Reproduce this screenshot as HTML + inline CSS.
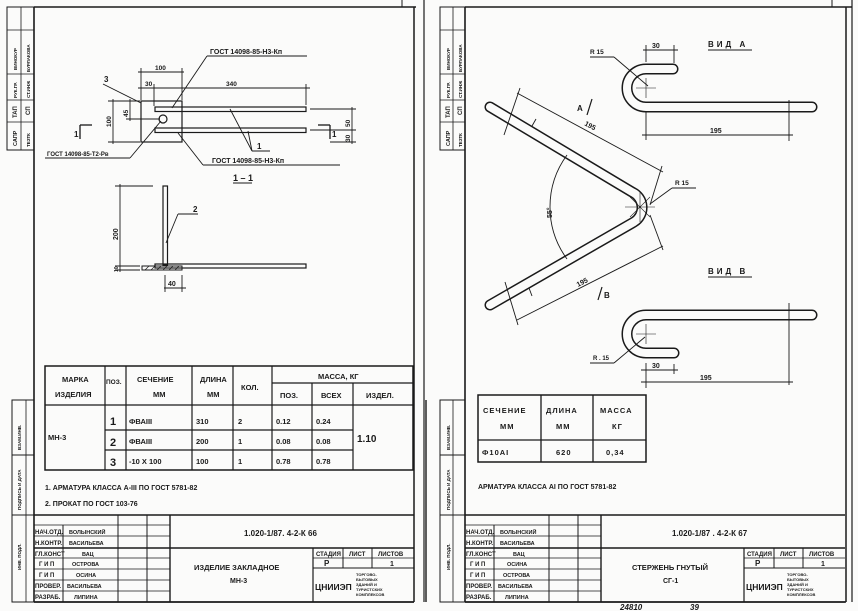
<!DOCTYPE html>
<html><head><meta charset="utf-8"><style>
html,body{margin:0;padding:0;background:#fbfbfa}
svg{display:block}
text{font-family:"Liberation Sans",sans-serif;font-weight:bold;fill:#1a1a1a}
</style></head><body>
<svg width="858" height="611" viewBox="0 0 858 611" xmlns="http://www.w3.org/2000/svg">
<defs>
<g id="tb" stroke="#1a1a1a" fill="none">
  <line x1="0" y1="0" x2="380" y2="0" stroke-width="1.6"/>
  <line x1="136" y1="0" x2="136" y2="87" stroke-width="1.4"/>
  <line x1="29" y1="10" x2="29" y2="87" stroke-width="1"/>
  <line x1="84" y1="0" x2="84" y2="87" stroke-width="1"/>
  <line x1="113" y1="0" x2="113" y2="87" stroke-width="1"/>
  <line x1="0" y1="10" x2="136" y2="10" stroke-width="0.8"/>
  <line x1="0" y1="21" x2="136" y2="21" stroke-width="0.8"/>
  <line x1="0" y1="33" x2="380" y2="33" stroke-width="1.4"/>
  <line x1="0" y1="43" x2="136" y2="43" stroke-width="0.8"/>
  <line x1="0" y1="54" x2="136" y2="54" stroke-width="0.8"/>
  <line x1="0" y1="65" x2="136" y2="65" stroke-width="0.8"/>
  <line x1="0" y1="76" x2="136" y2="76" stroke-width="0.8"/>
  <line x1="279" y1="33" x2="279" y2="87" stroke-width="1.2"/>
  <line x1="309" y1="33" x2="309" y2="53" stroke-width="1"/>
  <line x1="338" y1="33" x2="338" y2="53" stroke-width="1"/>
  <line x1="279" y1="43" x2="380" y2="43" stroke-width="0.8"/>
  <line x1="279" y1="53" x2="380" y2="53" stroke-width="1"/>
  <line x1="0" y1="87" x2="380" y2="87" stroke-width="1.6"/>
</g>
<g id="tbt" font-size="6">
  <text x="1" y="19">НАЧ.ОТД.</text><text x="1" y="30">Н.КОНТР.</text>
  <text x="1" y="41">ГЛ.КОНСТ</text><text x="5" y="51">Г И П</text>
  <text x="5" y="62">Г И П</text><text x="1" y="73">ПРОВЕР.</text>
  <text x="1" y="84">РАЗРАБ.</text>
  <text x="282" y="41">СТАДИЯ</text><text x="315" y="41">ЛИСТ</text><text x="344" y="41">ЛИСТОВ</text>
  <text x="290" y="51" font-size="8" font-weight="normal">Р</text><text x="356" y="51" font-size="7">1</text>
  <text x="281" y="75" font-size="8.5" font-weight="normal">ЦНИИЭП</text>
  <text x="322" y="61" font-size="4">ТОРГОВО-</text><text x="322" y="66" font-size="4">БЫТОВЫХ</text>
  <text x="322" y="71" font-size="4">ЗДАНИЙ И</text><text x="322" y="76" font-size="4">ТУРИСТСКИХ</text>
  <text x="322" y="81" font-size="4">КОМПЛЕКСОВ</text>
</g>
</defs>

<g stroke="#1a1a1a" fill="none">
  <line x1="34" y1="7" x2="416" y2="7" stroke-width="1.5"/>
  <line x1="34" y1="7" x2="34" y2="602" stroke-width="1.6"/>
  <line x1="414" y1="7" x2="414" y2="602" stroke-width="1.5"/>
  <line x1="424" y1="0" x2="424" y2="602" stroke-width="1.2"/>
  <line x1="402" y1="0" x2="402" y2="7" stroke-width="1"/>
  <line x1="34" y1="602" x2="414" y2="602" stroke-width="1.6"/>
  <rect x="7" y="7" width="27" height="143" stroke-width="1"/>
  <line x1="21" y1="7" x2="21" y2="150" stroke-width="0.8"/>
  <line x1="7" y1="30" x2="34" y2="30" stroke-width="0.8"/>
  <line x1="7" y1="74" x2="34" y2="74" stroke-width="0.8"/>
  <line x1="7" y1="100" x2="34" y2="100" stroke-width="0.8"/>
  <line x1="7" y1="122" x2="34" y2="122" stroke-width="0.8"/>
  <rect x="12" y="400" width="22" height="202" stroke-width="1"/>
  <line x1="26" y1="400" x2="26" y2="602" stroke-width="0.8"/>
  <line x1="12" y1="455" x2="34" y2="455" stroke-width="1"/>
  <line x1="12" y1="515" x2="34" y2="515" stroke-width="1"/>

  <line x1="465" y1="7" x2="852" y2="7" stroke-width="1.5"/>
  <line x1="465" y1="7" x2="465" y2="602" stroke-width="1.6"/>
  <line x1="846" y1="7" x2="846" y2="602" stroke-width="1.5"/>
  <line x1="852" y1="0" x2="852" y2="602" stroke-width="1.2"/>
  <line x1="832" y1="0" x2="832" y2="7" stroke-width="1"/>
  <line x1="465" y1="602" x2="846" y2="602" stroke-width="1.6"/>
  <line x1="426" y1="400" x2="426" y2="602" stroke-width="1.4"/>
  <rect x="440" y="7" width="25" height="143" stroke-width="1"/>
  <line x1="453" y1="7" x2="453" y2="150" stroke-width="0.8"/>
  <line x1="440" y1="30" x2="465" y2="30" stroke-width="0.8"/>
  <line x1="440" y1="74" x2="465" y2="74" stroke-width="0.8"/>
  <line x1="440" y1="100" x2="465" y2="100" stroke-width="0.8"/>
  <line x1="440" y1="122" x2="465" y2="122" stroke-width="0.8"/>
  <rect x="440" y="400" width="25" height="202" stroke-width="1"/>
  <line x1="453" y1="400" x2="453" y2="602" stroke-width="0.8"/>
  <line x1="440" y1="455" x2="465" y2="455" stroke-width="1"/>
  <line x1="440" y1="515" x2="465" y2="515" stroke-width="1"/>
</g>

<g font-size="4.5">
  <text transform="translate(17,70) rotate(-90)">ВИНОКУР</text>
  <text transform="translate(30,72) rotate(-90)">БУРЛАКОВА</text>
  <text transform="translate(17,98) rotate(-90)">РУК.ГР.</text>
  <text transform="translate(30,98) rotate(-90)">СТ.ИНЖ</text>
  <text transform="translate(17,118) rotate(-90)" font-size="6">ТАП</text>
  <text transform="translate(30,115) rotate(-90)" font-size="6">СП</text>
  <text transform="translate(17,146) rotate(-90)" font-size="5.5">САПР</text>
  <text transform="translate(30,147) rotate(-90)">ТЕЗТК</text>
  <text transform="translate(21,450) rotate(-90)">ВЗАМ.ИНВ.</text>
  <text transform="translate(21,510) rotate(-90)">ПОДПИСЬ И ДАТА</text>
  <text transform="translate(21,570) rotate(-90)">ИНВ. ПОДЛ.</text>

  <text transform="translate(450,70) rotate(-90)">ВИНОКУР</text>
  <text transform="translate(462,72) rotate(-90)">БУРЛАКОВА</text>
  <text transform="translate(450,98) rotate(-90)">РУК.ГР.</text>
  <text transform="translate(462,98) rotate(-90)">СТ.ИНЖ</text>
  <text transform="translate(450,118) rotate(-90)" font-size="6">ТАП</text>
  <text transform="translate(462,115) rotate(-90)" font-size="6">СП</text>
  <text transform="translate(450,146) rotate(-90)" font-size="5.5">САПР</text>
  <text transform="translate(462,147) rotate(-90)">ТЕЗТК</text>
  <text transform="translate(450,450) rotate(-90)">ВЗАМ.ИНВ.</text>
  <text transform="translate(450,510) rotate(-90)">ПОДПИСЬ И ДАТА</text>
  <text transform="translate(450,570) rotate(-90)">ИНВ. ПОДЛ.</text>
</g>

<g stroke="#1a1a1a" fill="none" stroke-width="0.9">
  <rect x="141" y="101" width="41" height="41" stroke-width="1.2"/>
  <rect x="155" y="107" width="151" height="4.5" stroke-width="1.2"/>
  <rect x="155" y="128" width="151" height="4.5" stroke-width="1.2"/>
  <circle cx="163" cy="119" r="4" stroke-width="1.2"/>
  <line x1="138" y1="72" x2="184" y2="72"/><line x1="141" y1="68" x2="141" y2="100"/><line x1="182" y1="68" x2="182" y2="100"/>
  <line x1="138" y1="88" x2="310" y2="88"/><line x1="154" y1="84" x2="154" y2="106"/><line x1="306" y1="84" x2="306" y2="105"/>
  <line x1="113" y1="99" x2="113" y2="144"/><line x1="108" y1="101" x2="140" y2="101"/><line x1="108" y1="142" x2="140" y2="142"/>
  <line x1="130" y1="99" x2="130" y2="121"/><line x1="126" y1="119" x2="160" y2="119"/>
  <line x1="352" y1="107" x2="352" y2="144"/><line x1="310" y1="109" x2="356" y2="109"/><line x1="310" y1="130" x2="356" y2="130"/><line x1="330" y1="142" x2="356" y2="142"/>
  <polyline points="80,125 80,139" stroke-width="1.3"/><line x1="80" y1="125" x2="92" y2="125" stroke-width="1.3"/>
  <polyline points="330,125 330,139" stroke-width="1.3"/><line x1="318" y1="125" x2="330" y2="125" stroke-width="1.3"/>
  <line x1="207" y1="56" x2="307" y2="56"/><line x1="207" y1="56" x2="172" y2="108"/>
  <line x1="103" y1="84" x2="141" y2="103"/>
  <line x1="45" y1="158" x2="130" y2="158"/><line x1="130" y1="158" x2="161" y2="121"/>
  <line x1="203" y1="165" x2="340" y2="165"/><line x1="203" y1="165" x2="178" y2="133"/>
  <line x1="252" y1="151" x2="270" y2="151"/><line x1="252" y1="151" x2="230" y2="109"/><line x1="252" y1="151" x2="248" y2="131"/>
  <line x1="233" y1="183" x2="252" y2="183"/>
  <rect x="163" y="186" width="4.5" height="79" stroke-width="1.2"/>
  <rect x="155" y="264" width="151" height="4" stroke-width="1.2"/>
  <rect x="142" y="266" width="40" height="4" stroke-width="1"/>
  <path d="M145 270l4-4M151 270l4-4M157 270l4-4M163 270l4-4M169 270l4-4M175 270l4-4" stroke-width="0.7"/>
  <line x1="120" y1="184" x2="120" y2="272"/><line x1="115" y1="186" x2="153" y2="186"/><line x1="115" y1="266" x2="140" y2="266"/>
  <line x1="115" y1="270" x2="140" y2="270"/>
  <line x1="178" y1="214" x2="198" y2="214"/><line x1="178" y1="214" x2="166" y2="243"/>
  <line x1="164" y1="288" x2="186" y2="288"/><line x1="165" y1="275" x2="165" y2="292"/><line x1="182" y1="275" x2="182" y2="292"/>
</g>
<g font-size="7" font-weight="normal">
  <text x="210" y="54">ГОСТ 14098-85-Н3-Кп</text>
  <text x="155" y="70" font-size="6.5">100</text>
  <text x="145" y="86" font-size="6.5">30</text>
  <text x="226" y="86" font-size="6.5">340</text>
  <text x="104" y="82" font-size="8" font-weight="bold">3</text>
  <text transform="translate(111,127) rotate(-90)" font-size="6.5">100</text>
  <text transform="translate(128,117) rotate(-90)" font-size="6.5">45</text>
  <text transform="translate(350,127) rotate(-90)" font-size="6.5">50</text>
  <text transform="translate(350,142) rotate(-90)" font-size="6.5">30</text>
  <text x="74" y="137" font-size="8">1</text>
  <text x="332" y="137" font-size="8">1</text>
  <text x="47" y="156" font-size="6">ГОСТ 14098-85-Т2-Рв</text>
  <text x="212" y="163">ГОСТ  14098-85-Н3-Кп</text>
  <text x="257" y="149" font-size="8">1</text>
  <text x="233" y="181" font-size="9">1 – 1</text>
  <text x="193" y="212" font-size="8">2</text>
  <text transform="translate(118,240) rotate(-90)" font-size="7">200</text>
  <text transform="translate(118,272) rotate(-90)" font-size="5">10</text>
  <text x="168" y="286" font-size="7">40</text>
</g>

<g stroke="#1a1a1a" fill="none" stroke-width="1.2">
  <rect x="45" y="366" width="368" height="104" stroke-width="1.5"/>
  <line x1="45" y1="405" x2="413" y2="405"/>
  <line x1="105" y1="366" x2="105" y2="470"/>
  <line x1="126" y1="366" x2="126" y2="470"/>
  <line x1="192" y1="366" x2="192" y2="470"/>
  <line x1="233" y1="366" x2="233" y2="470"/>
  <line x1="272" y1="366" x2="272" y2="470"/>
  <line x1="312" y1="383" x2="312" y2="470"/>
  <line x1="353" y1="383" x2="353" y2="470"/>
  <line x1="272" y1="383" x2="413" y2="383"/>
  <line x1="105" y1="430" x2="353" y2="430"/>
  <line x1="105" y1="450" x2="353" y2="450"/>
</g>
<g font-size="7.5">
  <text x="62" y="382">МАРКА</text><text x="55" y="397">ИЗДЕЛИЯ</text>
  <text x="106" y="384" font-size="6.5">ПОЗ.</text>
  <text x="137" y="382">СЕЧЕНИЕ</text><text x="153" y="397">ММ</text>
  <text x="200" y="382">ДЛИНА</text><text x="207" y="397">ММ</text>
  <text x="241" y="390">КОЛ.</text>
  <text x="318" y="379">МАССА, КГ</text>
  <text x="280" y="398">ПОЗ.</text><text x="321" y="398">ВСЕХ</text><text x="366" y="398">ИЗДЕЛ.</text>
  <text x="48" y="440">МН-3</text>
  <text x="110" y="425" font-size="11" font-weight="normal">1</text>
  <text x="110" y="446" font-size="11" font-weight="normal">2</text>
  <text x="110" y="466" font-size="11" font-weight="normal">3</text>
  <text x="129" y="424">ФВАIII</text><text x="129" y="444">ФВАIII</text><text x="129" y="464">-10 X 100</text>
  <text x="196" y="424">310</text><text x="196" y="444">200</text><text x="196" y="464">100</text>
  <text x="238" y="424">2</text><text x="238" y="444">1</text><text x="238" y="464">1</text>
  <text x="276" y="424">0.12</text><text x="276" y="444">0.08</text><text x="276" y="464">0.78</text>
  <text x="316" y="424">0.24</text><text x="316" y="444">0.08</text><text x="316" y="464">0.78</text>
  <text x="357" y="442" font-size="10">1.10</text>
  <text x="45" y="490" font-size="7">1. АРМАТУРА КЛАССА А-III  ПО ГОСТ 5781-82</text>
  <text x="45" y="506" font-size="7">2. ПРОКАТ    ПО ГОСТ 103-76</text>
</g>

<g transform="translate(34,515)">
  <use href="#tb"/><use href="#tbt"/>
  <g font-size="5.5" font-weight="normal">
    <text x="35" y="19">ВОЛЫНСКИЙ</text><text x="35" y="30">ВАСИЛЬЕВА</text><text x="48" y="41">ВАЦ</text>
    <text x="38" y="51">ОСТРОВА</text><text x="42" y="62">ОСИНА</text><text x="33" y="73">ВАСИЛЬЕВА</text><text x="40" y="84">ЛИПИНА</text>
  </g>
  <text x="210" y="21" font-size="8">1.020-1/87.  4-2-К 66</text>
  <text x="160" y="55" font-size="7.5">ИЗДЕЛИЕ ЗАКЛАДНОЕ</text>
  <text x="196" y="68" font-size="7">МН-3</text>
</g>

<g fill="none" stroke-linecap="round" stroke-linejoin="round">
  <path d="M490 107 L632 192 A17 17 0 0 1 634 222 L490 305" stroke="#1a1a1a" stroke-width="11"/>
  <path d="M490 107 L632 192 A17 17 0 0 1 634 222 L490 305" stroke="#fbfbfa" stroke-width="8"/>
  <path d="M673 69 L646 69 A19 19 0 0 0 646 107 L812 107" stroke="#1a1a1a" stroke-width="11"/>
  <path d="M673 69 L646 69 A19 19 0 0 0 646 107 L812 107" stroke="#fbfbfa" stroke-width="8"/>
  <path d="M812 315 L646 315 A19 19 0 0 0 646 353 L674 353" stroke="#1a1a1a" stroke-width="11"/>
  <path d="M812 315 L646 315 A19 19 0 0 0 646 353 L674 353" stroke="#fbfbfa" stroke-width="8"/>
</g>
<g stroke="#1a1a1a" fill="none" stroke-width="0.9">
  <line x1="517" y1="93" x2="663" y2="172"/>
  <line x1="520" y1="88" x2="504" y2="135"/><line x1="662" y1="166" x2="650" y2="205"/>
  <line x1="532" y1="126" x2="536" y2="119"/>
  <line x1="517" y1="320" x2="663" y2="246"/>
  <line x1="505" y1="282" x2="518" y2="325"/><line x1="650" y1="215" x2="663" y2="250"/>
  <line x1="529" y1="288" x2="532" y2="296"/>
  <path d="M567 155 A88 88 0 0 0 567 259"/>
  <path d="M625 207 L655 207 M640 192 L640 222 M630 197 L650 217 M630 217 L650 197" stroke-width="0.6"/>
  <line x1="672" y1="188" x2="696" y2="188"/><line x1="672" y1="188" x2="650" y2="204"/>
  <line x1="587" y1="115" x2="592" y2="99" stroke-width="1.2"/>
  <line x1="598" y1="300" x2="602" y2="287" stroke-width="1.2"/>
  <line x1="708" y1="50" x2="752" y2="50"/>
  <line x1="643" y1="50" x2="678" y2="50"/><line x1="646" y1="45" x2="646" y2="62"/><line x1="674" y1="45" x2="674" y2="63"/>
  <line x1="590" y1="57" x2="614" y2="57"/><line x1="614" y1="57" x2="648" y2="86"/>
  <path d="M636 88h20M646 78v20" stroke-width="0.6"/>
  <line x1="642" y1="135" x2="793" y2="135"/><line x1="646" y1="112" x2="646" y2="140"/><line x1="789" y1="100" x2="789" y2="141"/>
  <line x1="708" y1="277" x2="752" y2="277"/>
  <line x1="789" y1="303" x2="789" y2="385"/>
  <path d="M636 334h20M646 324v20" stroke-width="0.6"/>
  <line x1="590" y1="363" x2="614" y2="363"/><line x1="614" y1="363" x2="645" y2="337"/>
  <line x1="641" y1="370" x2="678" y2="370"/><line x1="646" y1="363" x2="646" y2="388"/><line x1="674" y1="364" x2="674" y2="374"/>
  <line x1="641" y1="382" x2="793" y2="382"/>
</g>
<g font-size="7" font-weight="normal">
  <text x="590" y="54" font-size="6.5">R 15</text>
  <text x="652" y="48" font-size="7">30</text>
  <text x="708" y="47" font-size="8" font-weight="bold" letter-spacing="3">ВИД А</text>
  <text x="710" y="133" font-size="7">195</text>
  <text transform="translate(584,125) rotate(28)" font-size="7">195</text>
  <text transform="translate(578,287) rotate(-27)" font-size="7">195</text>
  <text transform="translate(552,218) rotate(-90)" font-size="7">55°</text>
  <text x="675" y="185" font-size="6.5">R 15</text>
  <text x="577" y="111" font-size="8" font-weight="bold">А</text>
  <text x="604" y="298" font-size="8" font-weight="bold">В</text>
  <text x="708" y="274" font-size="8" font-weight="bold" letter-spacing="3">ВИД В</text>
  <text x="593" y="360" font-size="6">R . 15</text>
  <text x="652" y="368" font-size="7">30</text>
  <text x="700" y="380" font-size="7">195</text>
</g>

<g stroke="#1a1a1a" fill="none" stroke-width="1.3">
  <rect x="478" y="395" width="168" height="67" stroke-width="1.5"/>
  <line x1="478" y1="440" x2="646" y2="440"/>
  <line x1="541" y1="395" x2="541" y2="462"/>
  <line x1="593" y1="395" x2="593" y2="462"/>
</g>
<g font-size="7.5" letter-spacing="1">
  <text x="483" y="413">СЕЧЕНИЕ</text><text x="500" y="429">ММ</text>
  <text x="546" y="413">ДЛИНА</text><text x="556" y="429">ММ</text>
  <text x="600" y="413">МАССА</text><text x="612" y="429">КГ</text>
  <text x="482" y="455" font-weight="normal">Ф10АI</text>
  <text x="556" y="455" font-weight="normal">620</text>
  <text x="606" y="455" font-weight="normal">0,34</text>
  <text x="478" y="489" font-size="7" letter-spacing="0">АРМАТУРА КЛАССА АI  ПО ГОСТ 5781-82</text>
</g>

<g transform="translate(465,515)">
  <use href="#tb"/><use href="#tbt"/>
  <g font-size="5.5" font-weight="normal">
    <text x="35" y="19">ВОЛЫНСКИЙ</text><text x="35" y="30">ВАСИЛЬЕВА</text><text x="48" y="41">ВАЦ</text>
    <text x="42" y="51">ОСИНА</text><text x="38" y="62">ОСТРОВА</text><text x="33" y="73">ВАСИЛЬЕВА</text><text x="40" y="84">ЛИПИНА</text>
  </g>
  <text x="207" y="21" font-size="8">1.020-1/87 .  4-2-К 67</text>
  <text x="167" y="55" font-size="7.5">СТЕРЖЕНЬ ГНУТЫЙ</text>
  <text x="198" y="68" font-size="7">СГ-1</text>
</g>
<text x="620" y="610" font-size="8" font-style="italic" font-weight="normal">24810</text>
<text x="690" y="610" font-size="8" font-style="italic" font-weight="normal">39</text>
</svg>
</body></html>
